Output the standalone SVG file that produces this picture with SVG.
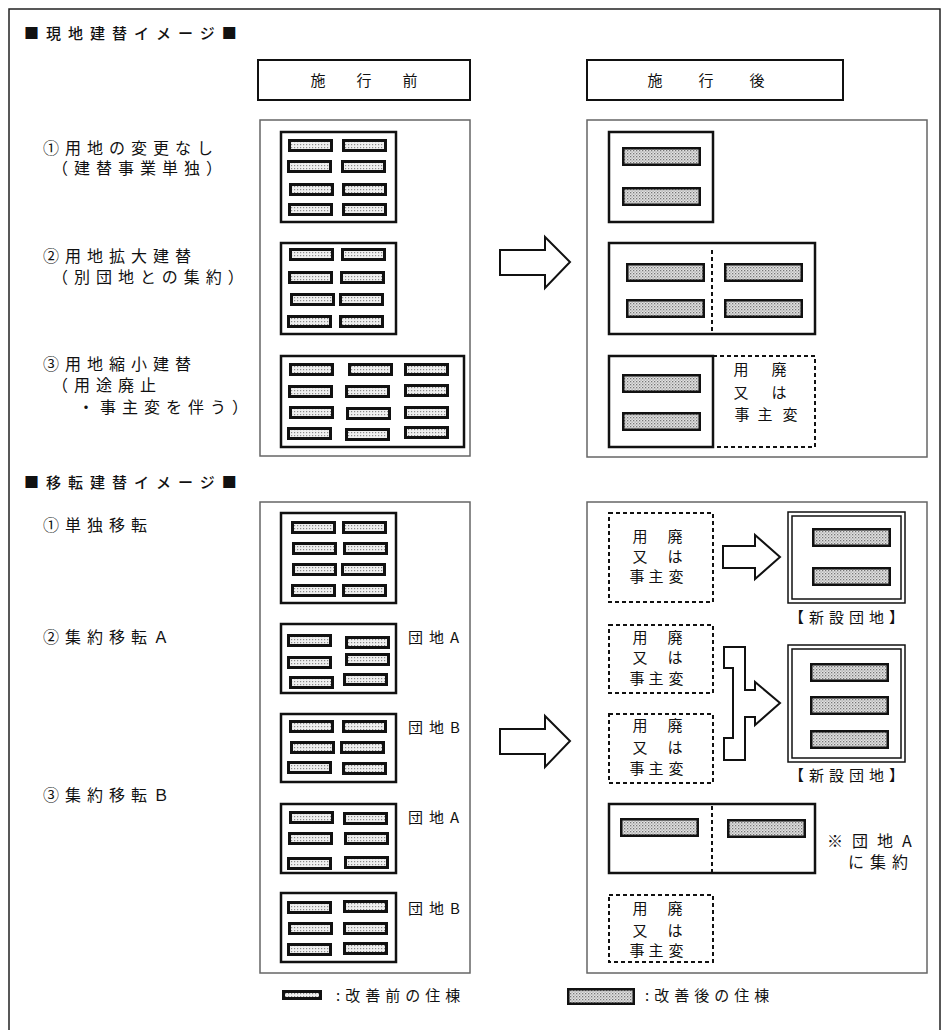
<svg xmlns="http://www.w3.org/2000/svg" width="948" height="1030" viewBox="0 0 948 1030">
<defs>
<pattern id="dotS" width="3" height="3" patternUnits="userSpaceOnUse"><rect width="3" height="3" fill="#efefef"/><rect width="1.2" height="1.2" fill="#8a8a8a"/></pattern>
<pattern id="dotL" width="3" height="3" patternUnits="userSpaceOnUse"><rect width="3" height="3" fill="#e2e2e2"/><rect width="1.3" height="1.3" fill="#777"/><rect x="1.5" y="1.5" width="1.2" height="1.2" fill="#999"/></pattern>
<style>
text{font-family:"Noto Sans CJK JP","Noto Sans CJK SC",sans-serif;fill:#111}
.t{font-size:15px;letter-spacing:7px;font-weight:500}
.l{font-size:16px;letter-spacing:6px}
.h{font-size:15px;text-anchor:middle}
.d{font-size:15px;text-anchor:middle}
.g{font-size:15px;letter-spacing:6px}
.lg{font-size:15px;letter-spacing:5px}
.panel{fill:#fff;stroke:#666;stroke-width:1.5}
.hdr{fill:#fff;stroke:#111;stroke-width:2}
.site{fill:#fff;stroke:#111;stroke-width:2.5}
.dash{fill:none;stroke:#111;stroke-width:2;stroke-dasharray:4 3}
.sb{fill:url(#dotS);stroke:#111;stroke-width:3}
.lb{fill:url(#dotL);stroke:#111;stroke-width:2.5}
.arr{fill:#fff;stroke:#111;stroke-width:2;stroke-linejoin:miter}
.dbl{fill:#fff;stroke:#111;stroke-width:1.5}
</style>
</defs>
<rect x="0" y="0" width="948" height="1030" fill="#fff"/>
<rect x="9" y="9" width="931" height="1040" fill="none" stroke="#222" stroke-width="1.5"/>

<g id="titles">
<text class="t" x="24" y="39">■現地建替イメージ■</text>
<text class="t" x="24" y="488">■移転建替イメージ■</text>
</g>

<g id="labels-genchi">
<text class="l" x="43" y="154">①用地の変更なし</text>
<text class="l" x="52" y="174">（建替事業単独）</text>
<text class="l" x="43" y="262">②用地拡大建替</text>
<text class="l" x="52" y="283">（別団地との集約）</text>
<text class="l" x="43" y="370">③用地縮小建替</text>
<text class="l" x="52" y="391">（用途廃止</text>
<text class="l" x="78" y="413">・事主変を伴う）</text>
</g>
<g id="labels-iten">
<text class="l" x="43" y="531">①単独移転</text>
<text class="l" x="43" y="643">②集約移転Ａ</text>
<text class="l" x="43" y="801">③集約移転Ｂ</text>
</g>

<g id="header-before">
<rect class="hdr" x="258" y="60" width="212" height="40"/>
<text class="h" x="318 364 410" y="86">施行前</text>
</g>
<g id="header-after">
<rect class="hdr" x="587" y="60" width="256" height="40"/>
<text class="h" x="655 706 757" y="86">施行後</text>
</g>

<g id="panels">
<rect class="panel" x="260" y="120" width="210" height="336"/>
<rect class="panel" x="587" y="120" width="340" height="337"/>
<rect class="panel" x="260" y="502" width="210" height="471"/>
<rect class="panel" x="587" y="502" width="340" height="471"/>
</g>

<g id="before-1">
<rect class="site" x="281" y="132" width="115" height="90"/>
<rect class="sb" x="289.5" y="140.5" width="42" height="10"/><rect class="sb" x="343.5" y="140.5" width="42" height="10"/>
<rect class="sb" x="288.5" y="161.5" width="42" height="10"/><rect class="sb" x="342.5" y="161.5" width="42" height="10"/>
<rect class="sb" x="290.5" y="184.5" width="42" height="10"/><rect class="sb" x="343.5" y="184.5" width="42" height="10"/>
<rect class="sb" x="289.5" y="204.5" width="42" height="10"/><rect class="sb" x="343.5" y="204.5" width="42" height="10"/>
</g>
<g id="before-2">
<rect class="site" x="281" y="243" width="115" height="91"/>
<rect class="sb" x="290.5" y="249.5" width="42" height="10"/><rect class="sb" x="342.5" y="249.5" width="42" height="10"/>
<rect class="sb" x="289.5" y="272.5" width="42" height="10"/><rect class="sb" x="341.5" y="272.5" width="42" height="10"/>
<rect class="sb" x="291.5" y="294.5" width="42" height="10"/><rect class="sb" x="340.5" y="294.5" width="42" height="10"/>
<rect class="sb" x="288.5" y="316.5" width="42" height="10"/><rect class="sb" x="340.5" y="316.5" width="42" height="10"/>
</g>
<g id="before-3">
<rect class="site" x="281" y="356" width="183" height="91"/>
<rect class="sb" x="290.5" y="364.5" width="42" height="10"/><rect class="sb" x="349.5" y="364.5" width="42" height="10"/><rect class="sb" x="405.5" y="364.5" width="42" height="10"/>
<rect class="sb" x="289.5" y="386.5" width="42" height="10"/><rect class="sb" x="346.5" y="386.5" width="42" height="10"/><rect class="sb" x="405.5" y="385.5" width="42" height="10"/>
<rect class="sb" x="290.5" y="407.5" width="42" height="10"/><rect class="sb" x="347.5" y="408.5" width="42" height="10"/><rect class="sb" x="405.5" y="407.5" width="42" height="10"/>
<rect class="sb" x="288.5" y="428.5" width="42" height="10"/><rect class="sb" x="346.5" y="429.5" width="42" height="10"/><rect class="sb" x="405.5" y="427.5" width="42" height="10"/>
</g>

<g id="after-1">
<rect class="site" x="609" y="132" width="104" height="90"/>
<rect class="lb" x="623.25" y="148.25" width="76.5" height="16.5"/>
<rect class="lb" x="623.25" y="188.25" width="76.5" height="16.5"/>
</g>
<g id="after-2">
<rect class="site" x="609" y="243" width="206" height="91"/>
<line class="dash" x1="712" y1="250" x2="712" y2="334"/>
<rect class="lb" x="627.25" y="264.25" width="76.5" height="16.5"/><rect class="lb" x="725.25" y="264.25" width="76.5" height="16.5"/>
<rect class="lb" x="627.25" y="300.25" width="76.5" height="16.5"/><rect class="lb" x="725.25" y="300.25" width="76.5" height="16.5"/>
</g>
<g id="after-3">
<path class="dash" d="M713,356 H815 V447 H713"/>
<rect class="site" x="609" y="356" width="104" height="91"/>
<rect class="lb" x="623.25" y="375.25" width="76.5" height="16.5"/>
<rect class="lb" x="623.25" y="413.25" width="76.5" height="16.5"/>
<text class="d" x="741 779" y="375">用廃</text>
<text class="d" x="741 779" y="398">又は</text>
<text class="d" x="742 765 790" y="420">事主変</text>
</g>

<g id="connectors">
<path class="arr" d="M500,250 H545 V237 L570,262 L545,288 V275 H500 Z"/>
<path class="arr" d="M500,729 H545 V716 L570,741 L545,767 V754 H500 Z"/>
<path class="arr" d="M723,546 H755 V535 L780,557 L755,579 V568 H723 Z"/>
<path class="arr" d="M724,647 H745 V690 H755 V682 L780,703 L755,725 V717 H745 V760 H724 V738 H733 V668 H724 Z"/>
</g>

<g id="iten-before-1">
<rect class="site" x="281" y="513" width="115" height="90"/>
<rect class="sb" x="292.5" y="522.5" width="42" height="10"/><rect class="sb" x="343.5" y="522.5" width="42" height="10"/>
<rect class="sb" x="293.5" y="543.5" width="42" height="10"/><rect class="sb" x="344.5" y="543.5" width="42" height="10"/>
<rect class="sb" x="293.5" y="564.5" width="42" height="10"/><rect class="sb" x="342.5" y="564.5" width="42" height="10"/>
<rect class="sb" x="292.5" y="585.5" width="42" height="10"/><rect class="sb" x="343.5" y="585.5" width="42" height="10"/>
</g>
<g id="iten-before-2A">
<rect class="site" x="281" y="624" width="115" height="69"/>
<rect class="sb" x="288.5" y="635.5" width="42" height="10"/><rect class="sb" x="346.5" y="637.5" width="42" height="10"/>
<rect class="sb" x="288.5" y="657.5" width="42" height="10"/><rect class="sb" x="346.5" y="654.5" width="42" height="10"/>
<rect class="sb" x="290.5" y="677.5" width="42" height="10"/><rect class="sb" x="344.5" y="674.5" width="42" height="10"/>
<text class="g" x="408" y="643">団地A</text>
</g>
<g id="iten-before-2B">
<rect class="site" x="281" y="714" width="115" height="68"/>
<rect class="sb" x="290.5" y="721.5" width="42" height="10"/><rect class="sb" x="343.5" y="721.5" width="42" height="10"/>
<rect class="sb" x="291.5" y="742.5" width="42" height="10"/><rect class="sb" x="341.5" y="742.5" width="42" height="10"/>
<rect class="sb" x="288.5" y="762.5" width="42" height="10"/><rect class="sb" x="343.5" y="763.5" width="42" height="10"/>
<text class="g" x="408" y="733">団地B</text>
</g>
<g id="iten-before-3A">
<rect class="site" x="281" y="804" width="115" height="69"/>
<rect class="sb" x="290.5" y="812.5" width="42" height="10"/><rect class="sb" x="344.5" y="813.5" width="42" height="10"/>
<rect class="sb" x="289.5" y="833.5" width="42" height="10"/><rect class="sb" x="345.5" y="833.5" width="42" height="10"/>
<rect class="sb" x="288.5" y="858.5" width="42" height="10"/><rect class="sb" x="345.5" y="857.5" width="42" height="10"/>
<text class="g" x="408" y="823">団地A</text>
</g>
<g id="iten-before-3B">
<rect class="site" x="281" y="893" width="115" height="69"/>
<rect class="sb" x="288.5" y="902.5" width="42" height="10"/><rect class="sb" x="344.5" y="901.5" width="42" height="10"/>
<rect class="sb" x="289.5" y="923.5" width="42" height="10"/><rect class="sb" x="344.5" y="923.5" width="42" height="10"/>
<rect class="sb" x="288.5" y="944.5" width="42" height="10"/><rect class="sb" x="344.5" y="943.5" width="42" height="10"/>
<text class="g" x="408" y="914">団地B</text>
</g>

<g id="iten-after-1-old">
<rect class="dash" x="609" y="513" width="104" height="89"/>
<text class="d" x="640 675" y="542">用廃</text>
<text class="d" x="640 675" y="562">又は</text>
<text class="d" x="637 656 676" y="582">事主変</text>
</g>
<g id="iten-after-1-new">
<rect class="dbl" x="788" y="512" width="117" height="91"/>
<rect class="dbl" x="792" y="516" width="109" height="83" stroke-width="2"/>
<rect class="lb" x="813.25" y="529.25" width="76.5" height="16.5"/>
<rect class="lb" x="813.25" y="568.25" width="76.5" height="16.5"/>
<text class="lg" x="789" y="623">【新設団地】</text>
</g>
<g id="iten-after-2-oldA">
<rect class="dash" x="609" y="625" width="104" height="68"/>
<text class="d" x="640 675" y="643">用廃</text>
<text class="d" x="640 675" y="663">又は</text>
<text class="d" x="637 656 676" y="684">事主変</text>
</g>
<g id="iten-after-2-oldB">
<rect class="dash" x="609" y="714" width="104" height="69"/>
<text class="d" x="640 675" y="731">用廃</text>
<text class="d" x="640 675" y="753">又は</text>
<text class="d" x="637 656 676" y="774">事主変</text>
</g>
<g id="iten-after-2-new">
<rect class="dbl" x="788" y="645" width="117" height="117"/>
<rect class="dbl" x="792" y="649" width="109" height="109" stroke-width="2"/>
<rect class="lb" x="811.25" y="664.25" width="76.5" height="16.5"/>
<rect class="lb" x="811.25" y="697.25" width="76.5" height="16.5"/>
<rect class="lb" x="811.25" y="731.25" width="76.5" height="16.5"/>
<text class="lg" x="789" y="781">【新設団地】</text>
</g>
<g id="iten-after-3">
<rect class="site" x="609" y="804" width="206" height="69"/>
<line class="dash" x1="712" y1="806" x2="712" y2="873"/>
<rect class="lb" x="621.25" y="819.25" width="76.5" height="16.5"/>
<rect class="lb" x="728.25" y="820.25" width="76.5" height="16.5"/>
<text class="l" x="827" y="847" style="letter-spacing:9px">※団地A</text>
<text class="l" x="848" y="868">に集約</text>
</g>
<g id="iten-after-3-old">
<rect class="dash" x="609" y="895" width="104" height="67"/>
<text class="d" x="640 675" y="914">用廃</text>
<text class="d" x="640 675" y="936">又は</text>
<text class="d" x="637 656 676" y="956">事主変</text>
</g>

<g id="legend">
<rect class="sb" x="283.5" y="991.5" width="37" height="7"/>
<text class="lg" x="336" y="1001">:改善前の住棟</text>
<rect class="lb" x="568.25" y="989.25" width="65.5" height="14.5"/>
<text class="lg" x="645" y="1001">:改善後の住棟</text>
</g>
</svg>
